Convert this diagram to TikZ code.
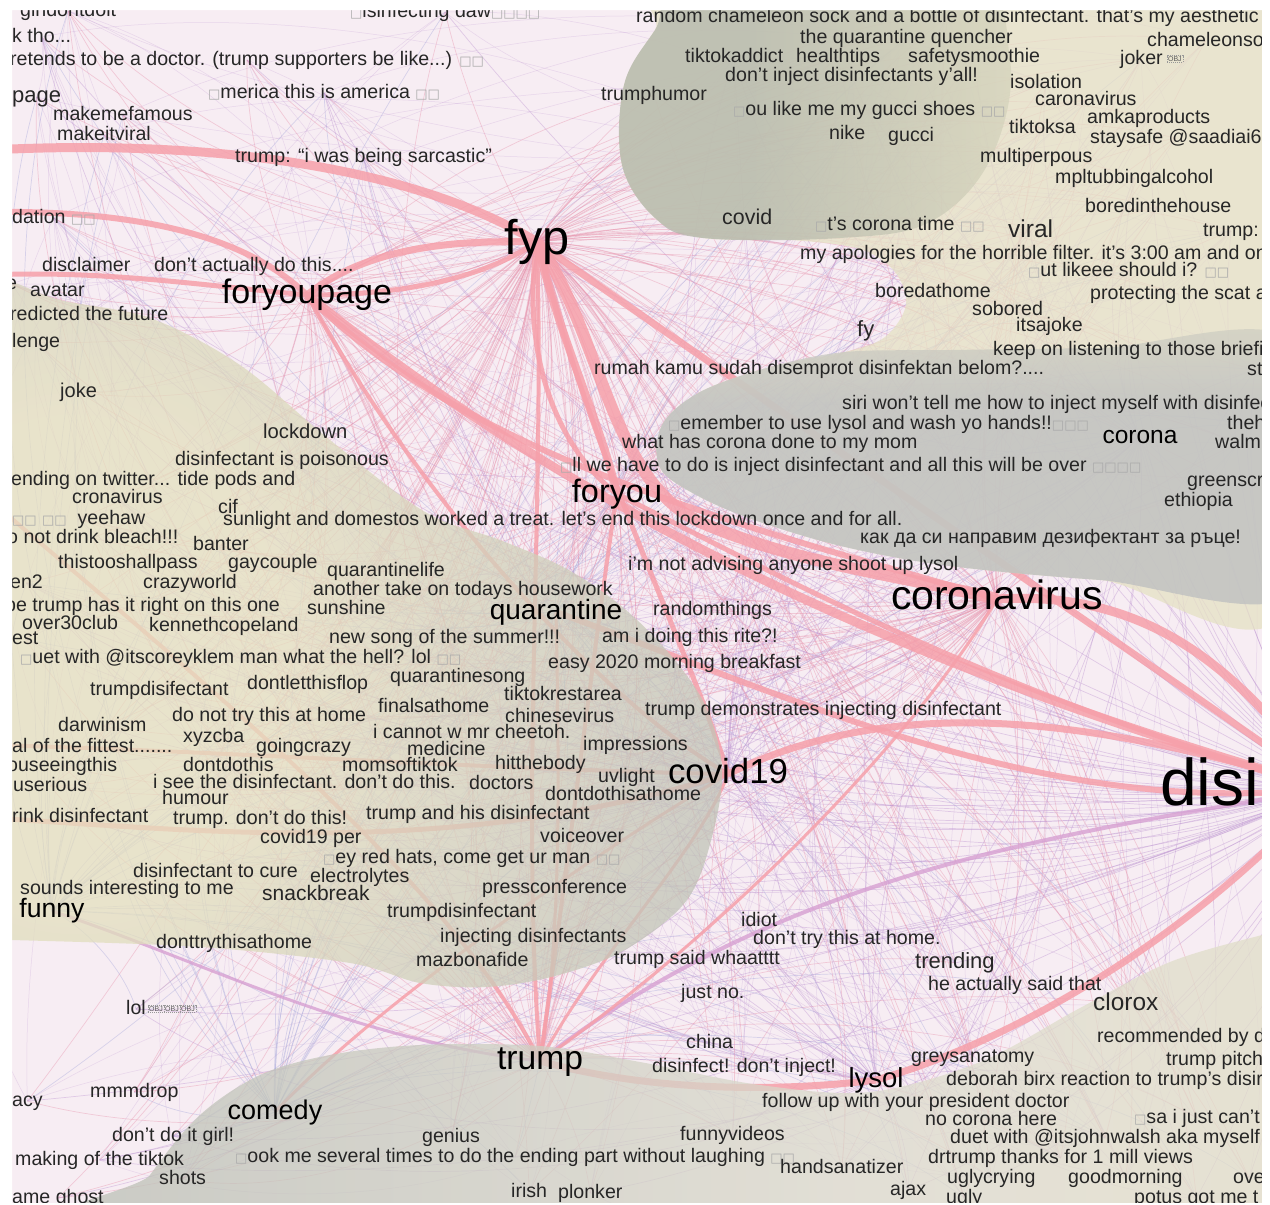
\documentclass[tikz,border=0pt]{standalone}
\usepackage{fontspec}
\usetikzlibrary{calc}
\setmainfont{Liberation Sans}
\newfontfamily\djv{DejaVu Sans}
\pgfdeclarelayer{bgl}\pgfdeclarelayer{edgel}\pgfdeclarelayer{blobl}
\pgfsetlayers{bgl,edgel,blobl,main}
\definecolor{ink}{RGB}{38,38,38}
\definecolor{bgpink}{RGB}{247,237,243}
\definecolor{thickc}{RGB}{246,160,170}
\definecolor{purc}{RGB}{215,160,210}
\definecolor{tpink}{RGB}{232,150,175}
\definecolor{tpur}{RGB}{190,150,210}
\definecolor{tblue}{RGB}{170,170,220}
\definecolor{gray1}{RGB}{178,182,170}
\definecolor{gray2}{RGB}{188,192,182}
\definecolor{rgray}{RGB}{188,190,192}
\definecolor{beige}{RGB}{229,225,196}
\definecolor{lbeige}{RGB}{220,219,204}
\definecolor{yel}{RGB}{228,224,190}
\definecolor{boxc}{RGB}{170,170,170}
\pgfdeclareverticalshading{gtwoshade}{100bp}{color(0bp)=(rgray); color(60bp)=(rgray); color(85bp)=(beige); color(100bp)=(beige)}
\pgfdeclarehorizontalshading{bshade}{100bp}{color(0bp)=(gray2); color(30bp)=(gray2); color(55bp)=(lbeige); color(80bp)=(beige); color(100bp)=(beige)}
\pgfdeclarehorizontalshading{goneshade}{100bp}{color(0bp)=(gray1); color(42bp)=(gray1); color(90bp)=(beige); color(100bp)=(beige)}
\pgfdeclareradialshading{lshade}{\pgfpoint{-22bp}{-4bp}}{color(0bp)=(yel); color(14bp)=(yel); color(40bp)=(gray2); color(75bp)=(gray2)}
\newcommand\bx{{\djv\fontsize{13}{13}\selectfont\color{boxc}□}}
\newcommand\lab[5][]{\node[lbl,#1] (l#2) at (#3,#4) {#5};}
\newcommand\fan[4]{\foreach \i in {#3} {\pgfmathsetmacro\bb{#4+25*rnd}\draw[#2, line width=0.7pt, draw opacity=0.42] (#1.center) .. controls ($(#1.center)!0.3!\bb:(l\i.center)$) and ($(l\i.center)!0.3!-\bb:(#1.center)$) .. (l\i.center);}}
\begin{document}
\begin{tikzpicture}[x=1pt,y=-1pt,
  sz/.style={font=\fontsize{#1}{#1}\selectfont, text height=0.52*#1pt, text depth=0pt},
  lbl/.style={sz=19.6, anchor=west, inner sep=0pt, text=ink},
  hub/.style={anchor=center, inner sep=0pt, text=black},
  thk/.style={draw=thickc, line width=#1, draw opacity=0.85},
  pur/.style={draw=purc, line width=#1, draw opacity=0.8},
  objb/.style={draw=gray!80, dash pattern=on 1pt off 1pt, inner sep=1pt, font=\fontsize{7}{7}\selectfont, text=gray!70!black, anchor=west}]
\useasboundingbox (0,0) rectangle (1270,1205);
\begin{pgfonlayer}{bgl}
  \fill[white] (0,0) rectangle (1270,1205);
  \fill[bgpink] (12,10) rectangle (1262,1203);
\end{pgfonlayer}
% hubs
\node[hub, sz=48.7] (fyp) at (537,242) {fyp};
\node[hub, sz=34] (fyppage) at (307,295) {foryoupage};
\node[hub, sz=32.4] (foryou) at (617,494) {foryou};
\node[hub, sz=41] (cv) at (997,599) {coronavirus};
\node[hub, sz=34.8] (c19) at (728,774) {covid19};
\node[hub, sz=28] (quar) at (556,612) {quarantine};
\node[hub, sz=33.6] (trump) at (540,1061) {trump};
\node[hub, sz=27.5] (lysol) at (876,1080) {lysol};
\node[hub, sz=24.5] (corona) at (1140,437) {corona};
\node[hub, sz=27] (comedy) at (275,1112) {comedy};
\node[hub, sz=26.6] (funny) at (52,911) {funny};
\node[lbl, sz=66, text=black] (dis) at (1160,788) {disinfectant};
% labels
\lab{1}{20}{11}{gindontdoit}
\lab{2}{12}{37}{k tho...}
\lab{3}{10}{60}{retends to be a doctor. (trump supporters be like...) \bx\bx}
\lab{4}{350}{12}{\bx isinfecting daw\bx\bx\bx\bx}
\lab{5}{636}{17}{random chameleon sock and a bottle of disinfectant. that's my aesthetic}
\lab{6}{800}{38}{the quarantine quencher}
\lab{7}{1147}{41}{chameleonso}
\lab{8}{685}{57}{tiktokaddict}
\lab{9}{796}{57}{healthtips}
\lab{10}{908}{57}{safetysmoothie}
\lab{11}{1120}{59}{joker}
\lab{12}{725}{76}{don't inject disinfectants y'all!}
\lab{13}{1010}{83}{isolation}
\lab{14}{208}{93}{\bx merica this is america \bx\bx}
\lab{15}{601}{95}{trumphumor}
\lab[sz=22]{16}{12}{97}{page}
\lab{17}{1035}{100}{caronavirus}
\lab{18}{733}{110}{\bx ou like me my gucci shoes \bx\bx}
\lab{19}{53}{115}{makemefamous}
\lab{20}{1087}{118}{amkaproducts}
\lab{21}{1009}{128}{tiktoksa}
\lab{22}{829}{134}{nike}
\lab{23}{888}{136}{gucci}
\lab{24}{57}{135}{makeitviral}
\lab{25}{1090}{138}{staysafe @saadiai6}
\lab{26}{235}{157}{trump: “i was being sarcastic”}
\lab{27}{980}{157}{multiperpous}
\lab{28}{1055}{178}{mpltubbingalcohol}
\lab{29}{1085}{207}{boredinthehouse}
\lab{30}{12}{218}{dation \bx\bx}
\lab[sz=21.4]{31}{722}{219}{covid}
\lab{32}{815}{225}{\bx t's corona time \bx\bx}
\lab[sz=24.5]{33}{1008}{231}{viral}
\lab{34}{1203}{231}{trump:}
\lab{35}{800}{254}{my apologies for the horrible filter. it's 3:00 am and on}
\lab{36}{42}{266}{disclaimer}
\lab{37}{154}{266}{don't actually do this....}
\lab{38}{1028}{271}{\bx ut likeee should i? \bx\bx}
\lab{39}{6}{284}{e}
\lab{40}{30}{291}{avatar}
\lab{41}{875}{292}{boredathome}
\lab{42}{1090}{294}{protecting the scat a}
\lab{43}{972}{310}{sobored}
\lab{44}{10}{315}{redicted the future}
\lab{45}{1016}{326}{itsajoke}
\lab[sz=22]{46}{857}{331}{fy}
\lab{47}{12}{342}{lenge}
\lab{48}{993}{350}{keep on listening to those briefi}
\lab{49}{594}{369}{rumah kamu sudah disemprot disinfektan belom?....}
\lab{50}{1247}{370}{st}
\lab[sz=20]{51}{60}{392}{joke}
\lab{52}{842}{404}{siri won't tell me how to inject myself with disinfec}
\lab{53}{668}{424}{\bx emember to use lysol and wash yo hands!!\bx\bx\bx}
\lab{54}{1227}{424}{theh}
\lab[sz=20.2]{55}{263}{433}{lockdown}
\lab{56}{622}{443}{what has corona done to my mom}
\lab{57}{1215}{443}{walm}
\lab{58}{175}{460}{disinfectant is poisonous}
\lab{59}{560}{466}{\bx ll we have to do is inject disinfectant and all this will be over \bx\bx\bx\bx}
\lab{60}{11}{480}{ending on twitter... tide pods and}
\lab{61}{1187}{481}{greenscr}
\lab{62}{72}{498}{cronavirus}
\lab{63}{1164}{501}{ethiopia}
\lab{64}{218}{508}{cif}
\lab{65}{12}{519}{\bx\bx\ \bx\bx\ \ yeehaw}
\lab{66}{223}{520}{sunlight and domestos worked a treat. let's end this lockdown once and for all.}
\lab{67}{7}{538}{o not drink bleach!!!}
\lab{68}{860}{538}{как да си направим дезифектант за ръце!}
\lab{69}{193}{545}{banter}
\lab{70}{58}{563}{thistooshallpass}
\lab{71}{228}{563}{gaycouple}
\lab{72}{327}{571}{quarantinelife}
\lab{73}{628}{565}{i'm not advising anyone shoot up lysol}
\lab{74}{10}{583}{en2}
\lab{75}{143}{583}{crazyworld}
\lab{76}{313}{590}{another take on todays housework}
\lab{77}{5}{606}{be trump has it right on this one}
\lab{78}{307}{609}{sunshine}
\lab{79}{653}{610}{randomthings}
\lab{80}{22}{624}{over30club}
\lab{81}{149}{626}{kennethcopeland}
\lab{82}{12}{639}{est}
\lab{83}{329}{638}{new song of the summer!!!}
\lab{84}{602}{637}{am i doing this rite?!}
\lab{85}{20}{658}{\bx uet with @itscoreyklem man what the hell? lol \bx\bx}
\lab{86}{548}{663}{easy 2020 morning breakfast}
\lab{87}{390}{677}{quarantinesong}
\lab{88}{247}{684}{dontletthisflop}
\lab{89}{90}{690}{trumpdisifectant}
\lab{90}{504}{695}{tiktokrestarea}
\lab{91}{378}{707}{finalsathome}
\lab{92}{645}{710}{trump demonstrates injecting disinfectant}
\lab{93}{172}{716}{do not try this at home}
\lab{94}{505}{717}{chinesevirus}
\lab{95}{58}{726}{darwinism}
\lab{96}{373}{733}{i cannot w mr cheetoh.}
\lab{97}{183}{737}{xyzcba}
\lab{98}{583}{745}{impressions}
\lab{99}{12}{747}{al of the fittest.......}
\lab{100}{256}{747}{goingcrazy}
\lab{101}{407}{750}{medicine}
\lab{102}{495}{764}{hitthebody}
\lab{103}{7}{766}{ouseeingthis}
\lab{104}{183}{766}{dontdothis}
\lab{105}{342}{766}{momsoftiktok}
\lab{106}{598}{777}{uvlight}
\lab{107}{153}{783}{i see the disinfectant. don't do this.}
\lab{108}{469}{784}{doctors}
\lab{109}{13}{786}{userious}
\lab{110}{545}{795}{dontdothisathome}
\lab{111}{162}{799}{humour}
\lab{112}{366}{814}{trump and his disinfectant}
\lab{113}{12}{817}{rink disinfectant}
\lab{114}{173}{819}{trump. don't do this!}
\lab{115}{540}{837}{voiceover}
\lab{116}{260}{838}{covid19 per}
\lab{117}{323}{858}{\bx ey red hats, come get ur man \bx\bx}
\lab{118}{133}{872}{disinfectant to cure}
\lab{119}{310}{877}{electrolytes}
\lab{120}{482}{888}{pressconference}
\lab{121}{20}{889}{sounds interesting to me}
\lab[sz=21]{122}{262}{895}{snackbreak}
\lab{123}{387}{912}{trumpdisinfectant}
\lab{124}{741}{921}{idiot}
\lab{125}{440}{937}{injecting disinfectants}
\lab{126}{753}{939}{don't try this at home.}
\lab{127}{156}{943}{donttrythisathome}
\lab{128}{614}{959}{trump said whaatttt}
\lab{129}{416}{961}{mazbonafide}
\lab[sz=22]{130}{915}{963}{trending}
\lab{131}{928}{985}{he actually said that}
\lab{132}{681}{993}{just no.}
\lab[sz=24.4]{133}{1093}{1004}{clorox}
\lab{134}{126}{1009}{lol}
\lab{135}{1097}{1037}{recommended by d}
\lab{136}{686}{1043}{china}
\lab{137}{911}{1057}{greysanatomy}
\lab{138}{1166}{1060}{trump pitch}
\lab{139}{652}{1067}{disinfect! don't inject!}
\lab{140}{946}{1080}{deborah birx reaction to trump's disir}
\lab{141}{90}{1092}{mmmdrop}
\lab{142}{12}{1101}{acy}
\lab{143}{762}{1102}{follow up with your president doctor}
\lab{144}{925}{1120}{no corona here}
\lab{145}{1134}{1118}{\bx sa i just can't}
\lab{146}{112}{1136}{don't do it girl!}
\lab{147}{422}{1137}{genius}
\lab{148}{680}{1135}{funnyvideos}
\lab{149}{950}{1138}{duet with @itsjohnwalsh aka myself}
\lab{150}{235}{1157}{\bx ook me several times to do the ending part without laughing \bx\bx}
\lab{151}{928}{1158}{drtrump thanks for 1 mill views}
\lab{152}{15}{1160}{making of the tiktok}
\lab{153}{780}{1168}{handsanatizer}
\lab{154}{947}{1178}{uglycrying}
\lab{155}{1068}{1178}{goodmorning}
\lab{156}{1233}{1178}{ove}
\lab{157}{159}{1179}{shots}
\lab{158}{890}{1190}{ajax}
\lab{159}{511}{1192}{irish}
\lab{160}{558}{1193}{plonker}
\lab{161}{946}{1198}{ugly}
\lab{162}{1134}{1198}{potus got me t}
\lab{163}{12}{1198}{ame ghost}
\node[objb] (ob1) at ([xshift=4pt]l11.east) {OBJ};
\node[objb] (ob2) at ([xshift=2pt]l134.east) {OBJ};
\node[objb] (ob3) at (ob2.east) {OBJ};
\node[objb] (ob4) at (ob3.east) {OBJ};
% free ends
\coordinate (eL1) at (-10,150);
\coordinate (eL2) at (-10,212);
\coordinate (eL3) at (-10,275);
\coordinate (eL5) at (-10,818);
\coordinate (eL6) at (-10,745);
\coordinate (eL7) at (-10,500);
\coordinate (m1) at (700,522);
\begin{pgfonlayer}{edgel}
  \pgfmathsetseed{4242}
  \foreach \k in {1,...,380} {\pgfmathtruncatemacro\ia{1+162*rnd}\pgfmathtruncatemacro\ib{1+162*rnd}\pgfmathsetmacro\bb{10+25*rnd}
    \draw[tpur, line width=0.5pt, draw opacity=0.28] (l\ia.center) .. controls ($(l\ia.center)!0.3!\bb:(l\ib.center)$) and ($(l\ib.center)!0.3!-\bb:(l\ia.center)$) .. (l\ib.center);}
  \fan{fyp}{tpink}{1,...,163}{5}
  \fan{cv}{tpink}{1,3,...,163}{5}
  \fan{dis}{tpur}{2,4,...,162}{5}
  \fan{trump}{tpink}{1,4,...,163}{5}
  \fan{c19}{tpur}{2,5,...,161}{5}
  \fan{fyppage}{tpink}{3,6,...,162}{5}
  \fan{foryou}{tpink}{1,5,...,161}{5}
  \fan{quar}{tblue}{2,6,...,162}{5}
  \fan{corona}{tpur}{3,8,...,163}{5}
  \fan{comedy}{tblue}{1,6,...,161}{5}
  \fan{funny}{tblue}{4,9,...,159}{5}
  \fan{lysol}{tpur}{2,8,...,158}{5}
  % thick edges
  \draw[thk=9] (eL1) .. controls (220,138) and (420,170) .. (fyp.center);
  \draw[thk=6] (eL2) .. controls (150,210) and (250,240) .. (fyppage.center);
  \draw[thk=5] (eL3) .. controls (100,270) and (200,285) .. (fyppage.center);
  \draw[thk=7] (fyp.center) .. controls (460,240) and (370,245) .. (fyppage.center);
  \draw[thk=5] (fyp.center) .. controls (480,280) and (400,295) .. (fyppage.center);
  \draw[thk=8] (fyp.center) .. controls (560,340) and (600,420) .. (foryou.center);
  \draw[thk=5] (fyp.center) .. controls (520,360) and (560,450) .. (foryou.center);
  \draw[thk=12] (fyp.center) .. controls (600,330) and (610,480) .. (m1) .. controls (800,565) and (900,575) .. (cv.center);
  \draw[thk=7] (fyp.center) .. controls (660,330) and (1000,560) .. (dis.center);
  \draw[thk=5] (fyp.center) .. controls (600,480) and (690,650) .. (c19.center);
  \draw[thk=4] (fyp.center) .. controls (545,500) and (520,800) .. (trump.center);
  \draw[thk=9] (fyppage.center) .. controls (500,450) and (800,640) .. (dis.center);
  \draw[thk=6] (fyppage.center) .. controls (480,470) and (800,540) .. (cv.center);
  \draw[thk=4] (fyppage.center) .. controls (420,500) and (600,700) .. (c19.center);
  \draw[thk=9] (cv.center) .. controls (1150,590) and (1240,670) .. (dis.center);
  \draw[thk=7] (c19.center) .. controls (900,690) and (1100,720) .. (dis.center);
  \draw[thk=6] (quar.center) .. controls (800,700) and (1050,820) .. (dis.center);
  \draw[pur=4] (trump.center) .. controls (800,860) and (1100,830) .. (dis.center);
  \draw[thk=7] (trump.center) .. controls (650,1092) and (780,1092) .. (lysol.center);
  \draw[thk=7] (lysol.center) .. controls (1000,1045) and (1180,950) .. (dis.center);
  \draw[thk=3] (trump.center) .. controls (700,950) and (900,760) .. (cv.center);
  \draw[thk=4] (trump.center) .. controls (570,850) and (600,600) .. (foryou.center);
  \draw[thk=3] (trump.center) .. controls (600,950) and (700,850) .. (c19.center);
  \draw[pur=3] (funny.center) .. controls (200,960) and (350,1040) .. (trump.center);
  \draw[thk=3] (comedy.center) .. controls (380,1000) and (600,850) .. (c19.center);
  \draw[thk=5] (eL5) .. controls (200,830) and (450,860) .. (c19.center);
  \draw[thk=4] (eL6) .. controls (200,750) and (500,770) .. (c19.center);
  \draw[thk=4] (eL7) .. controls (200,680) and (450,880) .. (trump.center);
  \draw[thk=5] (foryou.center) .. controls (750,560) and (1000,700) .. (dis.center);
  \draw[thk=3] (quar.center) .. controls (560,800) and (560,950) .. (trump.center);
\end{pgfonlayer}
\begin{pgfonlayer}{blobl}
  \fill[beige, fill opacity=0.75] plot[smooth cycle, tension=0.55] coordinates {(700,-30) (1300,-30) (1300,590) (1100,580) (950,566) (845,547) (760,522) (700,497) (660,468) (662,425) (700,392) (770,367) (845,352) (885,337) (906,305) (895,272) (860,249) (790,240) (703,238) (655,218) (622,165) (624,85) (655,30)};
  \shade[shading=goneshade, opacity=0.75] plot[smooth cycle, tension=0.6] coordinates {(700,-30) (960,-30) (1010,60) (990,160) (930,222) (840,238) (703,238) (655,218) (622,165) (624,85) (655,30)};
  \shade[shading=gtwoshade, opacity=0.75] plot[smooth cycle, tension=0.55] coordinates {(660,468) (662,425) (700,392) (770,367) (845,352) (950,350) (1100,348) (1300,345) (1300,590) (1100,580) (950,566) (845,547) (760,522) (700,497)};
  \shade[shading=lshade, opacity=0.75] plot[smooth cycle, tension=0.55] coordinates {(-30,275) (12,282) (60,300) (150,318) (240,365) (330,440) (425,512) (500,540) (565,568) (620,605) (668,652) (705,705) (722,767) (713,833) (687,900) (625,950) (555,976) (487,987) (420,983) (350,963) (200,947) (12,940) (-30,940)};
  \shade[shading=bshade, opacity=0.75] plot[smooth cycle, tension=0.55] coordinates {(110,1240) (150,1175) (200,1115) (260,1075) (330,1055) (420,1045) (540,1046) (640,1062) (760,1085) (870,1092) (980,1062) (1080,1008) (1170,962) (1262,935) (1310,925) (1310,1240)};
\end{pgfonlayer}
\fill[white, even odd rule] (-40,-40) rectangle (1310,1245) (12,10) rectangle (1262,1203);
\end{tikzpicture}
\end{document}
